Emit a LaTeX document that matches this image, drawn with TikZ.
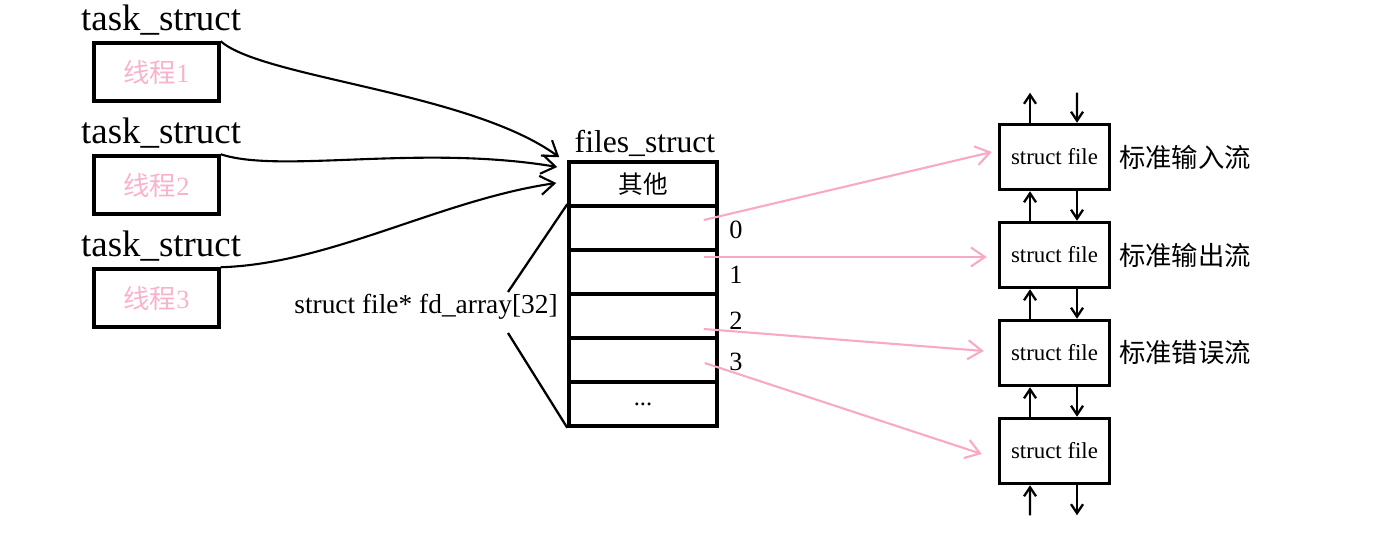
\documentclass[tikz,border=0pt]{standalone}
\usepackage{fontspec}
\setmainfont{Liberation Serif}
\newfontfamily\cjk{Noto Sans CJK SC}
\usetikzlibrary{arrows.meta, positioning}
\definecolor{ThreadPink}{RGB}{250,178,204}
\definecolor{LinkPink}{RGB}{250,168,200}

\begin{document}
\begin{tikzpicture}[x=0.02cm, y=-0.02cm,
    thread/.style={draw, line width=2pt, minimum width=2.5cm, minimum height=1.16cm,
                   text=ThreadPink, font=\fontsize{15}{17}\selectfont},
    slot/.style={draw, line width=2pt, minimum width=2.96cm, minimum height=0.88cm,
                 font=\fontsize{14}{16}\selectfont},
    filebox/.style={draw, line width=2pt, minimum width=2.2cm, minimum height=1.3cm,
                    font=\fontsize{13}{15}\selectfont},
    title/.style={font=\fontsize{21}{24}\selectfont},
    ptr/.style={line width=1.2pt, -{Straight Barb[length=2.8mm,width=3.8mm]}},
    link/.style={LinkPink, line width=1.2pt, -{Straight Barb[length=2.8mm,width=3.8mm]}},
    chain/.style={line width=1.3pt, -{Straight Barb[length=1.8mm,width=2.4mm]}}]
  \useasboundingbox (0,0) rectangle (1399,536);

  % threads
  \foreach \i/\y in {1/72, 2/185, 3/298}{
    \node[thread] (t\i) at (156.5,\y) {{\cjk 线程}\i};
    \node[title, anchor=base west] (ts\i) at (75,\y-41) {task\_struct};
  }

  % files_struct
  \node[slot] (other) at (643,184) {\cjk 其他};
  \foreach \k in {0,...,3}
    \node[slot] (fd\k) at (643,228+44*\k) {};
  \node[slot] (more) at (643,404) {...};
  \node[font=\fontsize{18}{20}\selectfont, anchor=base] (fs) at (645,153) {files\_struct};

  \node[font=\fontsize{15.6}{17}\selectfont] (fdname) at (426,307) {struct file* fd\_array[32]};
  \coordinate (ftop) at (508,292);
  \coordinate (fbot) at (508,333);
  \draw[line width=1.3pt] (ftop) -- (fd0.north west);
  \draw[line width=1.3pt] (fbot) -- (more.south west);

  \foreach \k/\y in {0/230, 1/275, 2/321, 3/362}
    \node[font=\fontsize{15}{17}\selectfont] (idx\k) at (736,\y) {\k};

  % struct file chain
  \foreach \j/\y in {1/157, 2/255, 3/353, 4/451}
    \node[filebox] (f\j) at (1054.5,\y) {struct file};
  \node[right=1pt of f1, font=\fontsize{15}{17}\selectfont] (in)  {\cjk 标准输入流};
  \node[right=1pt of f2, font=\fontsize{15}{17}\selectfont] (out) {\cjk 标准输出流};
  \node[right=1pt of f3, font=\fontsize{15}{17}\selectfont] (err) {\cjk 标准错误流};

  \draw[chain] ([xshift=-0.49cm]f1.north) -- ++(0,-30);
  \draw[chain] ([shift={(22.5,-30)}]f1.north) -- ([xshift=0.45cm]f1.north);
  \foreach \a/\b in {1/2, 2/3, 3/4}{
    \draw[chain] ([xshift=-0.49cm]f\b.north) -- ([xshift=-0.49cm]f\a.south);
    \draw[chain] ([xshift=0.45cm]f\a.south) -- ([xshift=0.45cm]f\b.north);
  }
  \draw[chain] ([shift={(-24.5,30)}]f4.south) -- ([xshift=-0.49cm]f4.south);
  \draw[chain] ([xshift=0.45cm]f4.south) -- ++(0,30);

  % task_struct -> files_struct
  \draw[ptr] (t1.north east) .. controls (262,78) and (470,92) .. ([shift={(-8,-3)}]other.north west);
  \draw[ptr] (t2.north east) .. controls (280,174) and (420,144) .. ([shift={(-10,-17)}]other.west);
  \draw[ptr] (t3.north east) .. controls (330,264) and (440,200) .. ([shift={(-11,-1)}]other.west);

  % fd -> struct file
  \draw[link] ([shift={(-15,-8)}]fd0.east) -- ([shift={(-6,-5)}]f1.west);
  \draw[link] ([shift={(-15,-15)}]fd1.east) -- ([shift={(-11,2)}]f2.west);
  \draw[link] ([shift={(-15,13)}]fd2.east) -- ([shift={(-14,-2)}]f3.west);
  \draw[link] ([shift={(-14,3)}]fd3.east) -- ([shift={(-16,3)}]f4.west);
\end{tikzpicture}
\end{document}
